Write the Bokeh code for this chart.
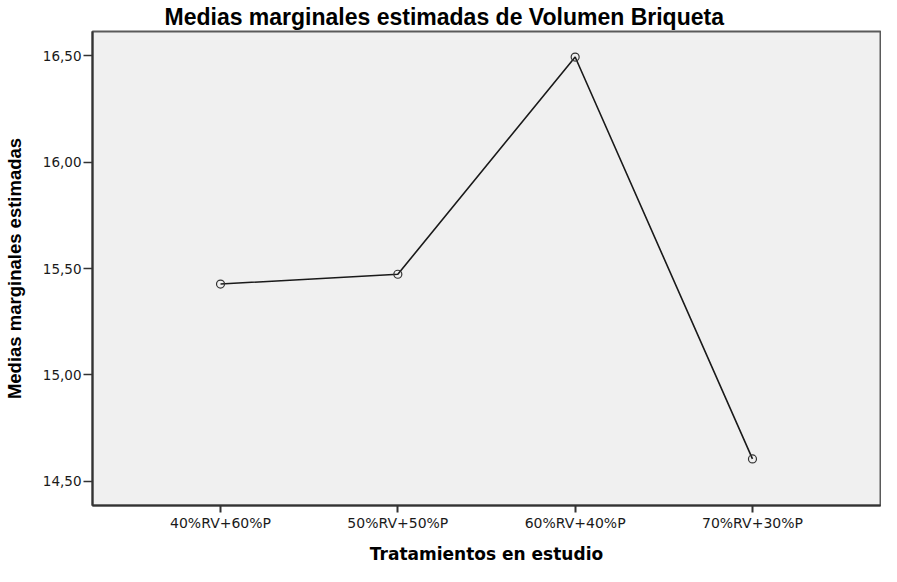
from bokeh.plotting import figure
from bokeh.models import FactorRange, Range1d, FixedTicker
from bokeh.embed import file_html
from bokeh.resources import INLINE

# ---- data ----
categories = ["40%RV+60%P", "50%RV+50%P", "60%RV+40%P", "70%RV+30%P"]
means = [15.427, 15.473, 16.494, 14.605]
y_ticks = [14.5, 15.0, 15.5, 16.0, 16.5]
y_tick_labels = ["14,50", "15,00", "15,50", "16,00", "16,50"]

title_text = "Medias marginales estimadas de Volumen Briqueta"
x_title = "Tratamientos en estudio"
y_title = "Medias marginales estimadas"

p = figure(
    width=881, height=566,
    x_range=FactorRange(*categories, range_padding=0.222, range_padding_units="absolute"),
    y_range=Range1d(14.386, 16.614),
    output_backend="svg", toolbar_location=None,
    min_border_left=90, min_border_right=1, min_border_top=27, min_border_bottom=55,
)

p.title.text = title_text
p.title.text_font = "Liberation Sans"
p.title.text_font_size = "23px"
p.title.text_font_style = "bold"
p.title.text_color = "#000000"
p.title.align = "left"
p.title.offset = 72
p.title.standoff = 3

p.background_fill_color = "#f0f0f0"
p.border_fill_color = "#ffffff"
p.outline_line_color = "#5a5a5a"
p.outline_line_width = 2
p.xgrid.visible = False
p.ygrid.visible = False

# y axis
ya = p.yaxis[0]
ya.ticker = FixedTicker(ticks=y_ticks)
ya.major_label_overrides = {t: l for t, l in zip(y_ticks, y_tick_labels)}
ya.minor_tick_line_color = None
ya.major_tick_out = 9
ya.major_tick_in = 0
ya.major_tick_line_width = 1.5
ya.major_tick_line_color = "#333333"
ya.axis_line_color = "#333333"
ya.axis_line_width = 2
ya.major_label_text_font = "DejaVu Sans"
ya.major_label_text_font_size = "13.5px"
ya.major_label_text_color = "#1a1a1a"
ya.major_label_standoff = 2
ya.axis_label = y_title
ya.axis_label_text_font = "Liberation Sans"
ya.axis_label_text_font_size = "18.5px"
ya.axis_label_text_font_style = "bold"
ya.axis_label_text_color = "#000000"
ya.axis_label_standoff = 15

# x axis
xa = p.xaxis[0]
xa.major_tick_out = 7
xa.major_tick_in = 0
xa.major_tick_line_width = 2
xa.major_tick_line_color = "#333333"
xa.axis_line_color = "#333333"
xa.axis_line_width = 2
xa.major_label_text_font = "DejaVu Sans"
xa.major_label_text_font_size = "14px"
xa.major_label_text_color = "#1a1a1a"
xa.major_label_standoff = 2
xa.axis_label = x_title
xa.axis_label_text_font = "DejaVu Sans"
xa.axis_label_text_font_size = "17px"
xa.axis_label_text_font_style = "bold"
xa.axis_label_text_color = "#000000"
xa.axis_label_standoff = 10

p.line(categories, means, line_color="#1a1a1a", line_width=1.6)
p.scatter(categories, means, marker="circle", size=8, fill_color=None,
          line_color="#333333", line_width=1.2)

open("out.html", "w").write(file_html(p, INLINE))
